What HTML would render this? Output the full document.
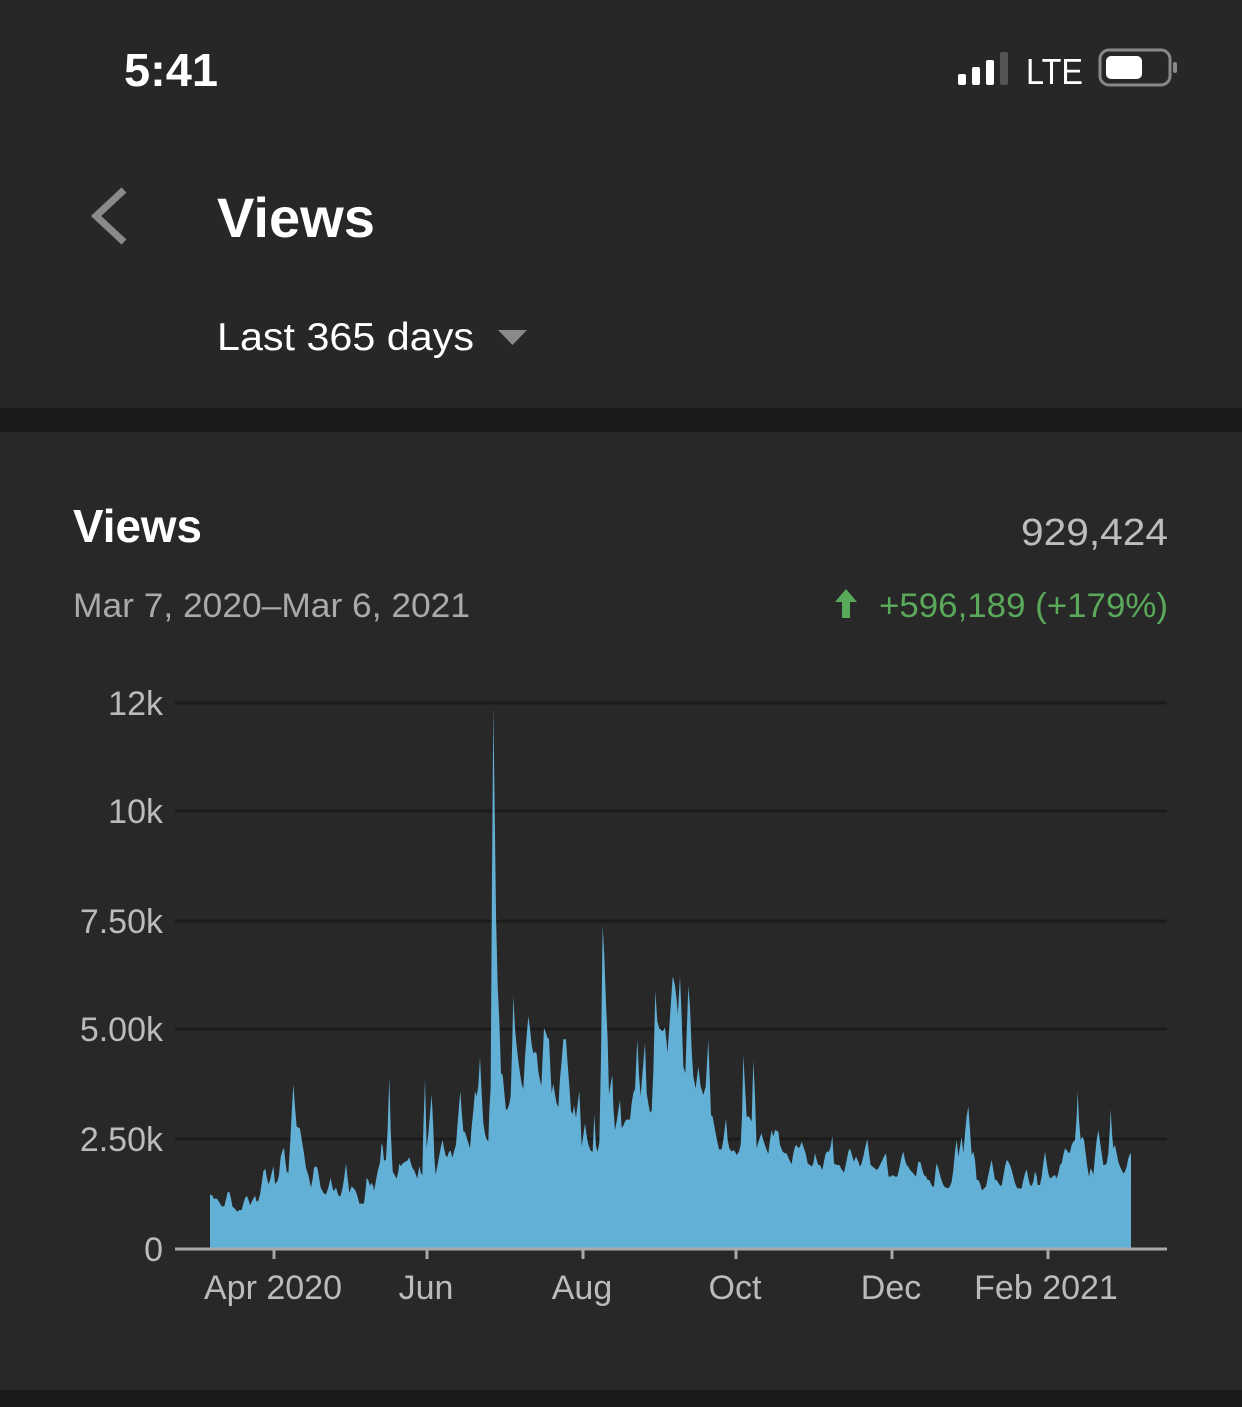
<!DOCTYPE html>
<html><head><meta charset="utf-8"><style>
html,body{margin:0;padding:0;background:#282828;width:1242px;height:1407px;overflow:hidden}
svg{display:block}
text{font-family:"Liberation Sans",sans-serif}
</style></head><body>
<svg width="1242" height="1407" viewBox="0 0 1242 1407" xmlns="http://www.w3.org/2000/svg">
<rect x="0" y="0" width="1242" height="408" fill="#272727"/>
<rect x="0" y="408" width="1242" height="24" fill="#1b1b1b"/>
<rect x="0" y="432" width="1242" height="958" fill="#282828"/>
<rect x="0" y="1390" width="1242" height="17" fill="#1b1b1b"/>
<!-- status bar -->
<text x="124" y="86" font-size="46" fill="#fff" font-weight="bold" textLength="94" lengthAdjust="spacingAndGlyphs">5:41</text>
<rect x="958" y="74" width="8" height="11" rx="2" fill="#fff"/>
<rect x="972" y="67" width="8" height="18" rx="2" fill="#fff"/>
<rect x="986" y="60" width="8" height="25" rx="2" fill="#fff"/>
<rect x="1000" y="52" width="8" height="33" rx="2" fill="#555"/>
<text x="1026" y="84" font-size="36" fill="#fff" textLength="57" lengthAdjust="spacingAndGlyphs">LTE</text>
<rect x="1100" y="50" width="70" height="35" rx="9" fill="none" stroke="#888" stroke-width="3"/>
<rect x="1106" y="56" width="36" height="23" rx="5" fill="#fff"/>
<rect x="1173" y="62" width="4" height="11" rx="2" fill="#888"/>
<!-- header -->
<polyline points="124,190 96,216 124,242" fill="none" stroke="#8a8a8a" stroke-width="7"/>
<text x="217" y="237" font-size="56" fill="#fff" font-weight="bold" textLength="158" lengthAdjust="spacingAndGlyphs">Views</text>
<text x="217" y="350" font-size="39" fill="#fff" textLength="257" lengthAdjust="spacingAndGlyphs">Last 365 days</text>
<polygon points="498,330 527,330 512.5,345" fill="#8a8a8a"/>
<!-- card -->
<text x="73" y="542" font-size="46" fill="#fff" font-weight="bold" textLength="129" lengthAdjust="spacingAndGlyphs">Views</text>
<text x="1021" y="545" font-size="38" fill="#bdbdbd" textLength="147" lengthAdjust="spacingAndGlyphs">929,424</text>
<text x="73" y="617" font-size="34" fill="#aaa" textLength="397" lengthAdjust="spacingAndGlyphs">Mar 7, 2020–Mar 6, 2021</text>
<text x="879" y="617" font-size="34" fill="#5aa85a" textLength="289" lengthAdjust="spacingAndGlyphs">+596,189 (+179%)</text>
<polygon points="846,589 857,602 850,602 850,618 842,618 842,602 835,602" fill="#5aa85a"/>
<!-- gridlines -->
<g stroke="#1b1b1b" stroke-width="3">
<line x1="175" y1="703" x2="1167" y2="703"/>
<line x1="175" y1="811" x2="1167" y2="811"/>
<line x1="175" y1="921" x2="1167" y2="921"/>
<line x1="175" y1="1029" x2="1167" y2="1029"/>
<line x1="175" y1="1139" x2="1167" y2="1139"/>
</g>
<g font-size="34" fill="#bbb" text-anchor="end">
<text x="163" y="715">12k</text>
<text x="163" y="823">10k</text>
<text x="163" y="933">7.50k</text>
<text x="163" y="1041">5.00k</text>
<text x="163" y="1151">2.50k</text>
<text x="163" y="1261">0</text>
</g>
<!-- area -->
<g fill="#63b0d6">
<polygon transform="translate(200,700) scale(0.33333,0.35714)" points="30,1540 30,1385 37,1387 42,1398 47,1395 52,1398 57,1405 63,1415 68,1418 73,1418 80,1390 83,1378 88,1378 93,1395 97,1418 105,1425 112,1433 118,1428 125,1428 130,1410 135,1395 140,1388 145,1398 150,1415 155,1405 160,1396 165,1388 170,1405 175,1402 180,1385 185,1355 190,1320 196,1312 200,1335 205,1356 210,1345 215,1325 220,1305 225,1355 232,1348 237,1330 242,1280 248,1260 252,1255 256,1290 260,1320 265,1325 270,1250 275,1160 280,1075 285,1140 290,1195 295,1197 300,1200 305,1230 312,1270 318,1310 325,1330 333,1365 338,1340 342,1310 348,1305 352,1310 356,1330 362,1365 370,1380 378,1385 385,1365 392,1338 398,1368 402,1375 408,1365 412,1378 417,1390 422,1388 428,1365 433,1335 438,1298 443,1340 448,1380 455,1362 462,1368 467,1375 472,1388 478,1410 485,1410 492,1410 497,1370 500,1338 505,1345 510,1360 515,1352 520,1362 522,1375 528,1345 533,1320 540,1295 545,1240 548,1250 552,1290 558,1287 563,1200 568,1055 572,1200 578,1320 585,1332 590,1340 595,1320 598,1298 603,1305 606,1300 612,1295 618,1292 622,1290 628,1280 632,1295 637,1310 643,1318 648,1330 652,1340 658,1305 663,1325 667,1330 670,1200 675,1062 680,1255 685,1215 690,1160 695,1105 700,1200 703,1280 707,1330 712,1305 718,1275 723,1250 728,1232 732,1255 737,1275 742,1280 747,1265 752,1262 757,1282 762,1265 768,1245 775,1160 781,1095 785,1150 790,1208 795,1210 800,1225 805,1240 810,1255 815,1195 820,1150 825,1095 830,1110 835,1080 840,1000 845,1100 850,1185 855,1215 860,1230 865,1235 868,1150 872,1085 876,500 880,20 884,300 888,600 893,800 898,900 903,1045 908,1050 913,1100 918,1148 923,1145 928,1130 932,1110 937,950 940,828 945,920 950,970 955,1010 960,1045 965,1075 970,1090 975,1000 980,940 985,885 990,920 995,965 1000,990 1005,985 1010,990 1015,1040 1020,1065 1024,1080 1028,1000 1032,918 1037,930 1042,945 1047,950 1051,1030 1055,1100 1060,1075 1065,1105 1070,1130 1075,1140 1080,1060 1085,1010 1090,950 1098,950 1103,1020 1108,1080 1113,1150 1118,1160 1122,1135 1128,1170 1133,1130 1138,1095 1142,1180 1145,1250 1150,1218 1155,1185 1160,1220 1165,1245 1172,1262 1178,1265 1183,1160 1188,1250 1193,1265 1198,1240 1203,1000 1208,630 1213,720 1218,850 1223,950 1227,1105 1232,1075 1237,1050 1240,1140 1245,1205 1250,1180 1255,1150 1260,1120 1265,1198 1270,1192 1275,1180 1280,1175 1285,1175 1290,1175 1295,1130 1300,1100 1305,1090 1312,950 1317,1050 1322,1110 1327,1050 1335,960 1340,1100 1345,1130 1350,1155 1355,1150 1360,1040 1366,815 1372,900 1378,920 1385,930 1390,925 1395,918 1400,960 1403,995 1407,960 1413,880 1419,775 1425,800 1430,840 1434,885 1440,800 1440,1540"/>
<polygon transform="translate(660,900) scale(0.33333,0.33333)" points="0,1047 0,385 8,395 15,382 22,465 30,350 38,230 45,280 53,350 60,230 65,350 70,500 76,520 80,400 85,258 90,320 95,450 100,530 107,565 115,500 122,560 130,585 137,560 145,420 150,560 153,645 158,650 165,690 172,725 177,748 185,748 190,720 198,655 203,720 208,745 215,755 220,750 225,755 230,765 237,755 242,735 246,650 250,465 255,560 260,650 267,650 275,665 280,480 285,590 290,745 297,720 304,700 310,720 318,745 325,762 330,720 335,690 340,710 345,690 355,695 360,735 368,755 375,760 380,760 388,780 395,792 400,760 405,740 410,735 415,745 420,740 425,725 430,740 437,760 443,790 450,795 455,800 460,790 465,760 470,780 475,795 480,795 487,810 492,785 497,760 502,755 507,755 512,740 517,708 522,790 530,795 538,795 545,808 552,818 558,790 565,755 570,745 577,770 582,785 588,770 595,785 600,800 605,790 610,770 615,745 622,717 627,760 632,795 638,800 645,805 650,810 655,805 660,795 665,785 672,770 678,760 682,800 686,830 692,830 698,825 705,830 712,830 718,805 725,770 730,755 735,780 740,795 745,800 750,810 755,815 760,820 768,830 775,785 782,788 787,810 792,825 798,830 803,840 808,840 812,850 818,860 822,860 827,810 830,790 835,805 840,825 845,842 850,855 855,862 865,865 870,858 875,845 880,810 885,755 890,720 895,770 900,740 905,710 910,760 915,700 920,650 925,620 930,690 935,765 940,755 945,780 950,840 955,840 960,850 966,872 972,865 978,860 985,825 990,800 995,780 1000,810 1005,840 1010,840 1015,848 1020,857 1025,857 1030,830 1035,800 1040,780 1045,785 1050,795 1055,810 1060,830 1065,850 1072,865 1080,865 1085,865 1090,840 1095,820 1100,808 1105,835 1110,855 1115,858 1120,845 1125,815 1130,828 1133,855 1140,855 1145,830 1150,790 1155,755 1160,790 1165,820 1170,835 1175,832 1180,828 1185,825 1190,835 1195,820 1200,795 1205,790 1210,765 1215,745 1220,750 1225,758 1230,758 1235,735 1240,725 1245,720 1250,650 1253,575 1257,660 1262,720 1267,710 1272,720 1277,760 1282,800 1287,830 1292,805 1297,815 1300,825 1305,770 1310,720 1315,690 1320,725 1325,760 1330,795 1335,795 1340,790 1345,760 1350,680 1352,628 1356,700 1360,745 1365,735 1370,760 1375,785 1380,800 1385,810 1390,820 1395,815 1400,800 1405,775 1410,762 1413,760 1413,1047"/>
</g>
<!-- axis -->
<line x1="175" y1="1249" x2="1167" y2="1249" stroke="#a8a8a8" stroke-width="3"/>
<g stroke="#a8a8a8" stroke-width="3">
<line x1="274" y1="1249" x2="274" y2="1259"/>
<line x1="427" y1="1249" x2="427" y2="1259"/>
<line x1="583" y1="1249" x2="583" y2="1259"/>
<line x1="736" y1="1249" x2="736" y2="1259"/>
<line x1="892" y1="1249" x2="892" y2="1259"/>
<line x1="1048" y1="1249" x2="1048" y2="1259"/>
</g>
<g font-size="34" fill="#bbb" text-anchor="middle">
<text x="273" y="1299">Apr 2020</text>
<text x="426" y="1299">Jun</text>
<text x="582" y="1299">Aug</text>
<text x="735" y="1299">Oct</text>
<text x="891" y="1299">Dec</text>
<text x="1046" y="1299">Feb 2021</text>
</g>
</svg>
</body></html>
